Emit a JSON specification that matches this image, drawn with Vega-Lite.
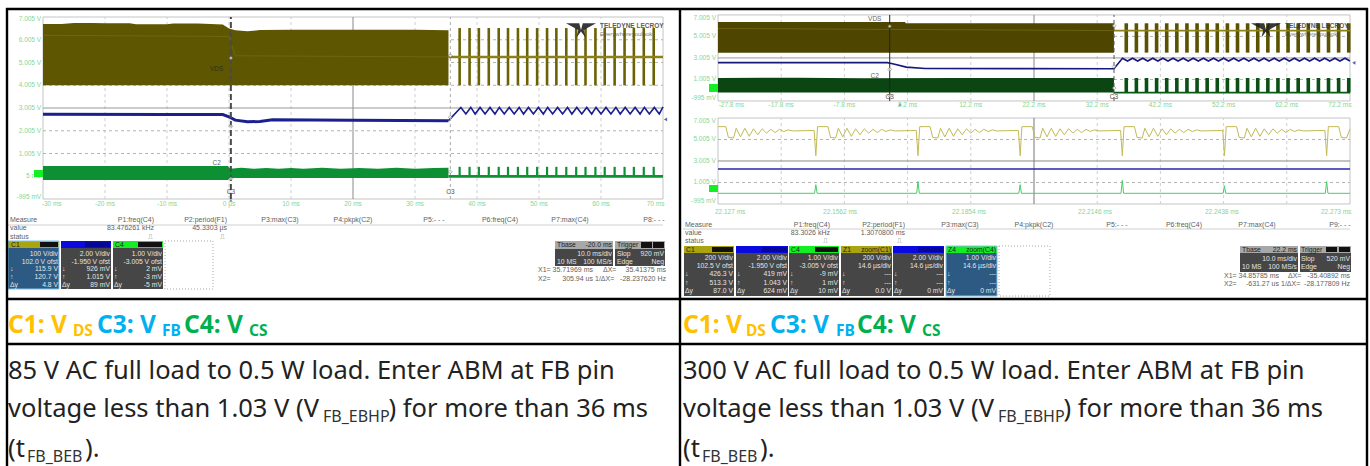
{"$schema":"https://vega.github.io/schema/vega-lite/v6.json","width":1370,"height":466,"padding":0,"autosize":"none","background":"white","config":{"view":{"stroke":null},"text":{"font":"Liberation Sans"}},"resolve":{"scale":{"x":"independent","y":"independent"}},
"layer":[
{"encoding":{"x":{"field":"t","type":"quantitative","scale":{"domain":[-36.9355,184.032]},"axis":null},"y":{"field":"v","type":"quantitative","scale":{"domain":[-12.7313,7.7523]},"axis":null}},
"layer":[
{"data":{"values":[{"t":-30,"t2":70,"v":-0.995,"v2":7.005}]},"mark":{"type":"rect","fill":"white","stroke":"#c4c4c4","strokeWidth":1},"encoding":{"x2":{"field":"t2"},"y2":{"field":"v2"}}},
{"data":{"values":[{"t":-20,"v":-0.995,"v2":7.005},{"t":-10,"v":-0.995,"v2":7.005},{"t":0,"v":-0.995,"v2":7.005},{"t":10,"v":-0.995,"v2":7.005},{"t":30,"v":-0.995,"v2":7.005},{"t":40,"v":-0.995,"v2":7.005},{"t":50,"v":-0.995,"v2":7.005},{"t":60,"v":-0.995,"v2":7.005}]},"mark":{"type":"rule","color":"#cfcfcf","strokeDash":[3,3]},"encoding":{"y2":{"field":"v2"}}},
{"data":{"values":[{"t":-30,"t2":70,"v":6.005},{"t":-30,"t2":70,"v":5.005},{"t":-30,"t2":70,"v":4.005},{"t":-30,"t2":70,"v":2.005},{"t":-30,"t2":70,"v":1.005},{"t":-30,"t2":70,"v":0.005}]},"mark":{"type":"rule","color":"#b4b4b4","strokeDash":[3,3]},"encoding":{"x2":{"field":"t2"}}},
{"data":{"values":[{"t":20,"v":-0.995,"v2":7.005}]},"mark":{"type":"rule","color":"#888"},"encoding":{"y2":{"field":"v2"}}},
{"data":{"values":[{"t":-30,"t2":70,"v":3.005}]},"mark":{"type":"rule","color":"#999"},"encoding":{"x2":{"field":"t2"}}},
{"data":{"values":[{"t":-30,"v":6.7,"lo":4.0},{"t":-27,"v":6.7,"lo":4.0},{"t":-25,"v":6.74,"lo":4.0},{"t":-22,"v":6.74,"lo":4.0},{"t":-20,"v":6.73,"lo":4.0},{"t":-16,"v":6.73,"lo":4.0},{"t":-15,"v":6.69,"lo":4.0},{"t":-10,"v":6.69,"lo":4.0},{"t":-9,"v":6.72,"lo":4.0},{"t":-5,"v":6.72,"lo":4.0},{"t":-4,"v":6.71,"lo":4.0},{"t":-1,"v":6.68,"lo":4.0},{"t":0,"v":6.5,"lo":4.0},{"t":1,"v":6.42,"lo":4.0},{"t":3,"v":6.38,"lo":4.0},{"t":5,"v":6.43,"lo":4.0},{"t":10,"v":6.45,"lo":4.0},{"t":20,"v":6.45,"lo":4.0},{"t":30,"v":6.44,"lo":4.0},{"t":35.4,"v":6.42,"lo":4.0}]},"mark":{"type":"area","color":"#5e5600"},"encoding":{"y2":{"field":"lo"}}},
{"data":{"values":[{"t":-30,"v":6.2},{"t":0,"v":6.15},{"t":1,"v":5.3},{"t":35.4,"v":5.25}]},"mark":{"type":"line","color":"#6f6710","strokeWidth":1}},
{"data":{"values":[{"t":37.2,"v":4,"v2":6.52},{"t":38.8,"v":4,"v2":6.52},{"t":40.3,"v":4,"v2":6.52},{"t":41.9,"v":4,"v2":6.52},{"t":43.5,"v":4,"v2":6.52},{"t":45.0,"v":4,"v2":6.52},{"t":46.6,"v":4,"v2":6.52},{"t":48.1,"v":4,"v2":6.52},{"t":49.7,"v":4,"v2":6.52},{"t":51.3,"v":4,"v2":6.52},{"t":52.8,"v":4,"v2":6.52},{"t":54.4,"v":4,"v2":6.52},{"t":56.0,"v":4,"v2":6.52},{"t":57.5,"v":4,"v2":6.52},{"t":59.1,"v":4,"v2":6.52},{"t":60.6,"v":4,"v2":6.52},{"t":62.2,"v":4,"v2":6.52},{"t":63.8,"v":4,"v2":6.52},{"t":65.3,"v":4,"v2":6.52},{"t":66.9,"v":4,"v2":6.52},{"t":68.5,"v":4,"v2":6.52}]},"mark":{"type":"rule","color":"#6b6206","strokeWidth":2.6},"encoding":{"y2":{"field":"v2"}}},
{"data":{"values":[{"t":37.2,"v":0,"v2":0.42},{"t":38.8,"v":0,"v2":0.42},{"t":40.3,"v":0,"v2":0.42},{"t":41.9,"v":0,"v2":0.42},{"t":43.5,"v":0,"v2":0.42},{"t":45.0,"v":0,"v2":0.42},{"t":46.6,"v":0,"v2":0.42},{"t":48.1,"v":0,"v2":0.42},{"t":49.7,"v":0,"v2":0.42},{"t":51.3,"v":0,"v2":0.42},{"t":52.8,"v":0,"v2":0.42},{"t":54.4,"v":0,"v2":0.42},{"t":56.0,"v":0,"v2":0.42},{"t":57.5,"v":0,"v2":0.42},{"t":59.1,"v":0,"v2":0.42},{"t":60.6,"v":0,"v2":0.42},{"t":62.2,"v":0,"v2":0.42},{"t":63.8,"v":0,"v2":0.42},{"t":65.3,"v":0,"v2":0.42},{"t":66.9,"v":0,"v2":0.42},{"t":68.5,"v":0,"v2":0.42}]},"mark":{"type":"rule","color":"#0d9134","strokeWidth":2.2},"encoding":{"y2":{"field":"v2"}}},
{"data":{"values":[{"t":35.4,"t2":70,"v":5.25}]},"mark":{"type":"rule","color":"#8c8018","strokeWidth":2.4},"encoding":{"x2":{"field":"t2"}}},
{"data":{"values":[{"t":35.4,"t2":70,"v":0.0}]},"mark":{"type":"rule","color":"#0d9134","strokeWidth":2.6},"encoding":{"x2":{"field":"t2"}}},
{"data":{"values":[{"t":35.4,"v":2.45},{"t":37.4,"v":3.03},{"t":38.2,"v":2.74},{"t":39.0,"v":3.03},{"t":39.7,"v":2.74},{"t":40.5,"v":3.03},{"t":41.3,"v":2.74},{"t":42.1,"v":3.03},{"t":42.9,"v":2.74},{"t":43.6,"v":3.03},{"t":44.4,"v":2.74},{"t":45.2,"v":3.03},{"t":46.0,"v":2.74},{"t":46.8,"v":3.03},{"t":47.5,"v":2.74},{"t":48.3,"v":3.03},{"t":49.1,"v":2.74},{"t":49.9,"v":3.03},{"t":50.7,"v":2.74},{"t":51.4,"v":3.03},{"t":52.2,"v":2.74},{"t":53.0,"v":3.03},{"t":53.8,"v":2.74},{"t":54.6,"v":3.03},{"t":55.3,"v":2.74},{"t":56.1,"v":3.03},{"t":56.9,"v":2.74},{"t":57.7,"v":3.03},{"t":58.5,"v":2.74},{"t":59.2,"v":3.03},{"t":60.0,"v":2.74},{"t":60.8,"v":3.03},{"t":61.6,"v":2.74},{"t":62.4,"v":3.03},{"t":63.1,"v":2.74},{"t":63.9,"v":3.03},{"t":64.7,"v":2.74},{"t":65.5,"v":3.03},{"t":66.3,"v":2.74},{"t":67.0,"v":3.03},{"t":67.8,"v":2.74},{"t":68.6,"v":3.03},{"t":69.4,"v":2.74},{"t":70.0,"v":3.05}]},"mark":{"type":"line","color":"#1b2090","strokeWidth":1.6}},
{"data":{"values":[{"t":-30,"v":2.73},{"t":-10,"v":2.72},{"t":-1,"v":2.72},{"t":0,"v":2.62},{"t":1,"v":2.47},{"t":3,"v":2.4},{"t":5,"v":2.41},{"t":7,"v":2.49},{"t":20,"v":2.47},{"t":35.4,"v":2.45}]},"mark":{"type":"line","color":"#1b2090","strokeWidth":3}},
{"data":{"values":[{"t":-30,"v":0.46,"lo":-0.155},{"t":-0.2,"v":0.46,"lo":-0.155},{"t":0.2,"v":0.34,"lo":-0.07},{"t":2,"v":0.38,"lo":-0.07},{"t":4,"v":0.33,"lo":-0.07},{"t":6,"v":0.37,"lo":-0.07},{"t":8,"v":0.33,"lo":-0.07},{"t":10,"v":0.37,"lo":-0.07},{"t":12,"v":0.33,"lo":-0.07},{"t":15,"v":0.38,"lo":-0.07},{"t":18,"v":0.33,"lo":-0.07},{"t":21,"v":0.37,"lo":-0.07},{"t":24,"v":0.33,"lo":-0.07},{"t":27,"v":0.38,"lo":-0.07},{"t":30,"v":0.33,"lo":-0.07},{"t":33,"v":0.37,"lo":-0.07},{"t":35.4,"v":0.38,"lo":-0.07}]},"mark":{"type":"area","color":"#0d8f33"},"encoding":{"y2":{"field":"lo"}}},
{"data":{"values":[{"t":0.3,"v":-0.995,"v2":7.005}]},"mark":{"type":"rule","color":"#4a4a4a","strokeWidth":2,"strokeDash":[6,3]},"encoding":{"y2":{"field":"v2"}}},
{"data":{"values":[{"t":35.7,"v":-0.995,"v2":7.005}]},"mark":{"type":"rule","color":"#aaa","strokeDash":[3,3]},"encoding":{"y2":{"field":"v2"}}},
{"data":{"values":[{"t":0.3,"v":5.2},{"t":0.3,"v":2.2},{"t":0.3,"v":-0.1},{"t":35.7,"v":5.3},{"t":35.7,"v":2.6},{"t":35.7,"v":0.2}]},"mark":{"type":"point","shape":"diamond","size":16,"filled":true,"color":"#eee","stroke":"#555","strokeWidth":0.6}},
{"data":{"values":[{"t":70.4,"v":2.5}]},"mark":{"type":"point","shape":"triangle-left","size":14,"filled":true,"color":"#1b2090"}},
{"data":{"values":[{"t":0.3,"v":-1.05}]},"mark":{"type":"point","shape":"triangle-up","size":12,"filled":true,"color":"#2a62c0"}},
{"data":{"values":[{"t":0.3,"v":-0.7,"s":"C3"},{"t":35.7,"v":-0.7,"s":"C3"}]},"mark":{"type":"text","fontSize":6.5,"color":"#333","opacity":0.85},"encoding":{"text":{"field":"s"}}},
{"data":{"values":[{"t":-2,"v":4.7,"s":"VDS"},{"t":-2,"v":0.6,"s":"C2"}]},"mark":{"type":"text","fontSize":6.5,"color":"#222","opacity":0.7},"encoding":{"text":{"field":"s"}}},
{"data":{"values":[{"t":-30.3,"v":6.93,"s":"7.005 V"},{"t":-30.3,"v":6.005,"s":"6.005 V"},{"t":-30.3,"v":5.005,"s":"5.005 V"},{"t":-30.3,"v":4.005,"s":"4.005 V"},{"t":-30.3,"v":3.005,"s":"3.005 V"},{"t":-30.3,"v":2.005,"s":"2.005 V"},{"t":-30.3,"v":1.005,"s":"1.005 V"},{"t":-30.3,"v":0.005,"s":"5 mV"},{"t":-30.3,"v":-0.9,"s":"-995 mV"}]},"mark":{"type":"text","align":"right","fontSize":6.5,"color":"#6fcf85","opacity":0.85},"encoding":{"text":{"field":"s"}}},
{"data":{"values":[{"t":-28.6,"v":-1.22,"s":"-30 ms"},{"t":-20,"v":-1.22,"s":"-20 ms"},{"t":-10,"v":-1.22,"s":"-10 ms"},{"t":0,"v":-1.22,"s":"0 µs"},{"t":10,"v":-1.22,"s":"10 ms"},{"t":20,"v":-1.22,"s":"20 ms"},{"t":30,"v":-1.22,"s":"30 ms"},{"t":40,"v":-1.22,"s":"40 ms"},{"t":50,"v":-1.22,"s":"50 ms"},{"t":60,"v":-1.22,"s":"60 ms"},{"t":68.8,"v":-1.22,"s":"70 ms"}]},"mark":{"type":"text","fontSize":6.5,"color":"#6fcf85","opacity":0.85},"encoding":{"text":{"field":"s"}}}
]},
{"encoding":{"x":{"field":"t","type":"quantitative","scale":{"domain":[-141.4076,75.3646]},"axis":null},"y":{"field":"v","type":"quantitative","scale":{"domain":[-34.9492,8.3953]},"axis":null}},
"layer":[
{"data":{"values":[{"t":-27.8,"t2":72.2,"v":-0.995,"v2":7.005}]},"mark":{"type":"rect","fill":"white","stroke":"#c4c4c4","strokeWidth":1},"encoding":{"x2":{"field":"t2"},"y2":{"field":"v2"}}},
{"data":{"values":[{"t":-17.8,"v":-0.995,"v2":7.005},{"t":-7.8,"v":-0.995,"v2":7.005},{"t":2.2,"v":-0.995,"v2":7.005},{"t":12.2,"v":-0.995,"v2":7.005},{"t":32.2,"v":-0.995,"v2":7.005},{"t":42.2,"v":-0.995,"v2":7.005},{"t":52.2,"v":-0.995,"v2":7.005},{"t":62.2,"v":-0.995,"v2":7.005}]},"mark":{"type":"rule","color":"#cfcfcf","strokeDash":[3,3]},"encoding":{"y2":{"field":"v2"}}},
{"data":{"values":[{"t":-27.8,"t2":72.2,"v":5.005},{"t":-27.8,"t2":72.2,"v":1.005}]},"mark":{"type":"rule","color":"#b4b4b4","strokeDash":[3,3]},"encoding":{"x2":{"field":"t2"}}},
{"data":{"values":[{"t":22.2,"v":-0.995,"v2":7.005}]},"mark":{"type":"rule","color":"#888"},"encoding":{"y2":{"field":"v2"}}},
{"data":{"values":[{"t":-27.8,"t2":72.2,"v":3.005}]},"mark":{"type":"rule","color":"#999"},"encoding":{"x2":{"field":"t2"}}},
{"data":{"values":[{"t":-27.8,"v":6.35,"lo":3.5},{"t":1.8,"v":6.35,"lo":3.5},{"t":1.9,"v":6.23,"lo":3.5},{"t":34.85,"v":6.23,"lo":3.5}]},"mark":{"type":"area","color":"#4e4600"},"encoding":{"y2":{"field":"lo"}}},
{"data":{"values":[{"t":-27.8,"v":5.75},{"t":34.85,"v":5.55}]},"mark":{"type":"line","color":"#6a6210","strokeWidth":1}},
{"data":{"values":[{"t":36.8,"v":3.5,"v2":6.23},{"t":38.4,"v":3.5,"v2":6.23},{"t":40.0,"v":3.5,"v2":6.23},{"t":41.6,"v":3.5,"v2":6.23},{"t":43.2,"v":3.5,"v2":6.23},{"t":44.8,"v":3.5,"v2":6.23},{"t":46.4,"v":3.5,"v2":6.23},{"t":48.0,"v":3.5,"v2":6.23},{"t":49.6,"v":3.5,"v2":6.23},{"t":51.2,"v":3.5,"v2":6.23},{"t":52.8,"v":3.5,"v2":6.23},{"t":54.4,"v":3.5,"v2":6.23},{"t":56.0,"v":3.5,"v2":6.23},{"t":57.6,"v":3.5,"v2":6.23},{"t":59.2,"v":3.5,"v2":6.23},{"t":60.8,"v":3.5,"v2":6.23},{"t":62.4,"v":3.5,"v2":6.23},{"t":64.0,"v":3.5,"v2":6.23},{"t":65.6,"v":3.5,"v2":6.23},{"t":67.2,"v":3.5,"v2":6.23},{"t":68.8,"v":3.5,"v2":6.23},{"t":70.4,"v":3.5,"v2":6.23},{"t":72.0,"v":3.5,"v2":6.23}]},"mark":{"type":"rule","color":"#5a5200","strokeWidth":3.6},"encoding":{"y2":{"field":"v2"}}},
{"data":{"values":[{"t":36.8,"v":-0.22,"v2":1.14},{"t":38.4,"v":-0.22,"v2":1.14},{"t":40.0,"v":-0.22,"v2":1.14},{"t":41.6,"v":-0.22,"v2":1.14},{"t":43.2,"v":-0.22,"v2":1.14},{"t":44.8,"v":-0.22,"v2":1.14},{"t":46.4,"v":-0.22,"v2":1.14},{"t":48.0,"v":-0.22,"v2":1.14},{"t":49.6,"v":-0.22,"v2":1.14},{"t":51.2,"v":-0.22,"v2":1.14},{"t":52.8,"v":-0.22,"v2":1.14},{"t":54.4,"v":-0.22,"v2":1.14},{"t":56.0,"v":-0.22,"v2":1.14},{"t":57.6,"v":-0.22,"v2":1.14},{"t":59.2,"v":-0.22,"v2":1.14},{"t":60.8,"v":-0.22,"v2":1.14},{"t":62.4,"v":-0.22,"v2":1.14},{"t":64.0,"v":-0.22,"v2":1.14},{"t":65.6,"v":-0.22,"v2":1.14},{"t":67.2,"v":-0.22,"v2":1.14},{"t":68.8,"v":-0.22,"v2":1.14},{"t":70.4,"v":-0.22,"v2":1.14},{"t":72.0,"v":-0.22,"v2":1.14}]},"mark":{"type":"rule","color":"#0b4f15","strokeWidth":3.6},"encoding":{"y2":{"field":"v2"}}},
{"data":{"values":[{"t":34.85,"t2":72.2,"v":5.55}]},"mark":{"type":"rule","color":"#8c8018","strokeWidth":1.6},"encoding":{"x2":{"field":"t2"}}},
{"data":{"values":[{"t":34.85,"t2":72.2,"v":-0.22}]},"mark":{"type":"rule","color":"#0b5a18","strokeWidth":1.6},"encoding":{"x2":{"field":"t2"}}},
{"data":{"values":[{"t":-27.8,"v":2.57},{"t":-1,"v":2.57},{"t":0,"v":2.45},{"t":2,"v":2.15},{"t":5,"v":2.02},{"t":20,"v":2.01},{"t":34.85,"v":2.0},{"t":36.2,"v":2.98},{"t":37.0,"v":2.72},{"t":37.8,"v":2.98},{"t":38.6,"v":2.72},{"t":39.4,"v":2.98},{"t":40.2,"v":2.72},{"t":41.0,"v":2.98},{"t":41.8,"v":2.72},{"t":42.6,"v":2.98},{"t":43.4,"v":2.72},{"t":44.2,"v":2.98},{"t":45.0,"v":2.72},{"t":45.8,"v":2.98},{"t":46.6,"v":2.72},{"t":47.4,"v":2.98},{"t":48.2,"v":2.72},{"t":49.0,"v":2.98},{"t":49.8,"v":2.72},{"t":50.6,"v":2.98},{"t":51.4,"v":2.72},{"t":52.2,"v":2.98},{"t":53.0,"v":2.72},{"t":53.8,"v":2.98},{"t":54.6,"v":2.72},{"t":55.4,"v":2.98},{"t":56.2,"v":2.72},{"t":57.0,"v":2.98},{"t":57.8,"v":2.72},{"t":58.6,"v":2.98},{"t":59.4,"v":2.72},{"t":60.2,"v":2.98},{"t":61.0,"v":2.72},{"t":61.8,"v":2.98},{"t":62.6,"v":2.72},{"t":63.4,"v":2.98},{"t":64.2,"v":2.72},{"t":65.0,"v":2.98},{"t":65.8,"v":2.72},{"t":66.6,"v":2.98},{"t":67.4,"v":2.72},{"t":68.2,"v":2.98},{"t":69.0,"v":2.72},{"t":69.8,"v":2.98},{"t":70.6,"v":2.72},{"t":71.4,"v":2.98},{"t":72.2,"v":2.72}]},"mark":{"type":"line","color":"#16187c","strokeWidth":1.6}},
{"data":{"values":[{"t":-27.8,"v":1.14,"lo":-0.22},{"t":-15,"v":1.17,"lo":-0.22},{"t":-5,"v":1.12,"lo":-0.22},{"t":10,"v":1.15,"lo":-0.22},{"t":34.85,"v":1.14,"lo":-0.22}]},"mark":{"type":"area","color":"#0a4512"},"encoding":{"y2":{"field":"lo"}}},
{"data":{"values":[{"t":-0.63,"v":-0.995,"v2":7.005}]},"mark":{"type":"rule","color":"#222"},"encoding":{"y2":{"field":"v2"}}},
{"data":{"values":[{"t":34.86,"v":-0.995,"v2":7.005}]},"mark":{"type":"rule","color":"#555","strokeDash":[4,3]},"encoding":{"y2":{"field":"v2"}}},
{"data":{"values":[{"t":-0.63,"v":5.95},{"t":-0.63,"v":1.95},{"t":-0.63,"v":-0.5},{"t":34.86,"v":6.0},{"t":34.86,"v":2.2},{"t":34.86,"v":0.2}]},"mark":{"type":"point","shape":"diamond","size":16,"filled":true,"color":"#eee","stroke":"#555","strokeWidth":0.6}},
{"data":{"values":[{"t":72.8,"v":2.55}]},"mark":{"type":"point","shape":"triangle-left","size":14,"filled":true,"color":"#1b2090"}},
{"data":{"values":[{"t":1,"v":-1.3}]},"mark":{"type":"point","shape":"triangle-up","size":12,"filled":true,"color":"#2a62c0"}},
{"data":{"values":[{"t":-0.63,"v":-0.6,"s":"C3"},{"t":34.86,"v":-0.6,"s":"C3"}]},"mark":{"type":"text","fontSize":6.5,"color":"#333","opacity":0.85},"encoding":{"text":{"field":"s"}}},
{"data":{"values":[{"t":-3,"v":6.6,"s":"VDS"},{"t":-3,"v":1.35,"s":"C2"}]},"mark":{"type":"text","fontSize":6.5,"color":"#222","opacity":0.7},"encoding":{"text":{"field":"s"}}},
{"data":{"values":[{"t":-28.12,"v":6.75,"s":"7.005 V"},{"t":-28.12,"v":5.005,"s":"5.005 V"},{"t":-28.12,"v":3.005,"s":"3.005 V"},{"t":-28.12,"v":1.005,"s":"1.005 V"},{"t":-28.12,"v":-0.75,"s":"-995 mV"}]},"mark":{"type":"text","align":"right","fontSize":6.5,"color":"#6fcf85","opacity":0.85},"encoding":{"text":{"field":"s"}}},
{"data":{"values":[{"t":-25.7,"v":-1.4,"s":"-27.8 ms"},{"t":-17.8,"v":-1.4,"s":"-17.8 ms"},{"t":-7.8,"v":-1.4,"s":"-7.8 ms"},{"t":2.2,"v":-1.4,"s":"2.2 ms"},{"t":12.2,"v":-1.4,"s":"12.2 ms"},{"t":22.2,"v":-1.4,"s":"22.2 ms"},{"t":32.2,"v":-1.4,"s":"32.2 ms"},{"t":42.2,"v":-1.4,"s":"42.2 ms"},{"t":52.2,"v":-1.4,"s":"52.2 ms"},{"t":62.2,"v":-1.4,"s":"62.2 ms"},{"t":70.6,"v":-1.4,"s":"72.2 ms"}]},"mark":{"type":"text","fontSize":6.5,"color":"#6fcf85","opacity":0.85},"encoding":{"text":{"field":"s"}}}
]},
{"encoding":{"x":{"field":"t","type":"quantitative","scale":{"domain":[-165.867,150.62]},"axis":null},"y":{"field":"v","type":"quantitative","scale":{"domain":[-25.3678,17.9818]},"axis":null}},
"layer":[
{"data":{"values":[{"t":0,"t2":146,"v":-0.995,"v2":7.005}]},"mark":{"type":"rect","fill":"white","stroke":"#c4c4c4","strokeWidth":1},"encoding":{"x2":{"field":"t2"},"y2":{"field":"v2"}}},
{"data":{"values":[{"t":14.6,"v":-0.995,"v2":7.005},{"t":29.2,"v":-0.995,"v2":7.005},{"t":43.8,"v":-0.995,"v2":7.005},{"t":58.4,"v":-0.995,"v2":7.005},{"t":87.6,"v":-0.995,"v2":7.005},{"t":102.2,"v":-0.995,"v2":7.005},{"t":116.8,"v":-0.995,"v2":7.005},{"t":131.4,"v":-0.995,"v2":7.005}]},"mark":{"type":"rule","color":"#cfcfcf","strokeDash":[3,3]},"encoding":{"y2":{"field":"v2"}}},
{"data":{"values":[{"t":0,"t2":146,"v":5.005},{"t":0,"t2":146,"v":1.005}]},"mark":{"type":"rule","color":"#b4b4b4","strokeDash":[3,3]},"encoding":{"x2":{"field":"t2"}}},
{"data":{"values":[{"t":73,"v":-0.995,"v2":7.005}]},"mark":{"type":"rule","color":"#777"},"encoding":{"y2":{"field":"v2"}}},
{"data":{"values":[{"t":0,"t2":146,"v":3.005}]},"mark":{"type":"rule","color":"#888"},"encoding":{"x2":{"field":"t2"}}},
{"data":{"values":[{"t":0,"v":6.2},{"t":1.8,"v":6.2},{"t":2.4,"v":5.2},{"t":3.6,"v":5.15},{"t":4.2,"v":6.05},{"t":5.2,"v":5.25},{"t":6.2,"v":6.05},{"t":7.2,"v":5.3},{"t":8.2,"v":6.0},{"t":9.2,"v":5.45},{"t":10.2,"v":6.0},{"t":11.2,"v":5.6},{"t":12.2,"v":5.95},{"t":13.2,"v":5.65},{"t":14.2,"v":5.95},{"t":15.2,"v":5.75},{"t":16.2,"v":5.9},{"t":17.2,"v":5.8},{"t":22.2,"v":5.85},
{"t":22.6,"v":3.5},{"t":23.0,"v":6.2},{"t":25.4,"v":6.2},{"t":26.0,"v":5.2},{"t":27.2,"v":5.15},{"t":27.8,"v":6.05},{"t":28.8,"v":5.25},{"t":29.8,"v":6.05},{"t":30.8,"v":5.3},{"t":31.8,"v":6.0},{"t":32.8,"v":5.45},{"t":33.8,"v":6.0},{"t":34.8,"v":5.6},{"t":35.8,"v":5.95},{"t":36.8,"v":5.65},{"t":37.8,"v":5.95},{"t":38.8,"v":5.75},{"t":39.8,"v":5.9},{"t":40.8,"v":5.8},{"t":45.8,"v":5.85},
{"t":46.2,"v":3.5},{"t":46.6,"v":6.2},{"t":49.0,"v":6.2},{"t":49.6,"v":5.2},{"t":50.8,"v":5.15},{"t":51.4,"v":6.05},{"t":52.4,"v":5.25},{"t":53.4,"v":6.05},{"t":54.4,"v":5.3},{"t":55.4,"v":6.0},{"t":56.4,"v":5.45},{"t":57.4,"v":6.0},{"t":58.4,"v":5.6},{"t":59.4,"v":5.95},{"t":60.4,"v":5.65},{"t":61.4,"v":5.95},{"t":62.4,"v":5.75},{"t":63.4,"v":5.9},{"t":64.4,"v":5.8},{"t":69.4,"v":5.85},
{"t":69.8,"v":3.5},{"t":70.2,"v":6.2},{"t":72.6,"v":6.2},{"t":73.2,"v":5.2},{"t":74.4,"v":5.15},{"t":75.0,"v":6.05},{"t":76.0,"v":5.25},{"t":77.0,"v":6.05},{"t":78.0,"v":5.3},{"t":79.0,"v":6.0},{"t":80.0,"v":5.45},{"t":81.0,"v":6.0},{"t":82.0,"v":5.6},{"t":83.0,"v":5.95},{"t":84.0,"v":5.65},{"t":85.0,"v":5.95},{"t":86.0,"v":5.75},{"t":87.0,"v":5.9},{"t":88.0,"v":5.8},{"t":93.0,"v":5.85},
{"t":93.4,"v":3.5},{"t":93.8,"v":6.2},{"t":96.2,"v":6.2},{"t":96.8,"v":5.2},{"t":98.0,"v":5.15},{"t":98.6,"v":6.05},{"t":99.6,"v":5.25},{"t":100.6,"v":6.05},{"t":101.6,"v":5.3},{"t":102.6,"v":6.0},{"t":103.6,"v":5.45},{"t":104.6,"v":6.0},{"t":105.6,"v":5.6},{"t":106.6,"v":5.95},{"t":107.6,"v":5.65},{"t":108.6,"v":5.95},{"t":109.6,"v":5.75},{"t":110.6,"v":5.9},{"t":111.6,"v":5.8},{"t":116.6,"v":5.85},
{"t":117.0,"v":3.5},{"t":117.4,"v":6.2},{"t":119.8,"v":6.2},{"t":120.4,"v":5.2},{"t":121.6,"v":5.15},{"t":122.2,"v":6.05},{"t":123.2,"v":5.25},{"t":124.2,"v":6.05},{"t":125.2,"v":5.3},{"t":126.2,"v":6.0},{"t":127.2,"v":5.45},{"t":128.2,"v":6.0},{"t":129.2,"v":5.6},{"t":130.2,"v":5.95},{"t":131.2,"v":5.65},{"t":132.2,"v":5.95},{"t":133.2,"v":5.75},{"t":134.2,"v":5.9},{"t":135.2,"v":5.8},{"t":140.2,"v":5.85},
{"t":140.6,"v":3.5},{"t":141.0,"v":6.2},{"t":143.4,"v":6.2},{"t":144.0,"v":5.2},{"t":145.2,"v":5.15},{"t":146.0,"v":6.0}]},"mark":{"type":"line","color":"#c4ba55","strokeWidth":1}},
{"data":{"values":[{"t":0,"v":2.26},{"t":146,"v":2.26}]},"mark":{"type":"line","color":"#2428a8","strokeWidth":1.6}},
{"data":{"values":[{"t":0,"v":0},{"t":22.3,"v":0},{"t":22.6,"v":0.8},{"t":22.9,"v":0},{"t":45.9,"v":0},{"t":46.2,"v":1.1},{"t":46.5,"v":0},{"t":69.5,"v":0},{"t":69.8,"v":0.8},{"t":70.1,"v":0},{"t":93.1,"v":0},{"t":93.4,"v":1.2},{"t":93.7,"v":0},{"t":116.7,"v":0},{"t":117.0,"v":0.7},{"t":117.3,"v":0},{"t":140.3,"v":0},{"t":140.6,"v":1.1},{"t":140.9,"v":0},{"t":146,"v":0}]},"mark":{"type":"line","color":"#45cf66","strokeWidth":1}},
{"data":{"values":[{"t":-0.5,"v":6.75,"s":"7.005 V"},{"t":-0.5,"v":5.005,"s":"5.005 V"},{"t":-0.5,"v":3.005,"s":"3.005 V"},{"t":-0.5,"v":1.005,"s":"1.005 V"},{"t":-0.5,"v":-0.75,"s":"-995 mV"}]},"mark":{"type":"text","align":"right","fontSize":6.5,"color":"#6fcf85","opacity":0.85},"encoding":{"text":{"field":"s"}}},
{"data":{"values":[{"t":2.8,"v":-1.7,"s":"22.127 ms"},{"t":28.2,"v":-1.7,"s":"22.1562 ms"},{"t":58,"v":-1.7,"s":"22.1854 ms"},{"t":87.1,"v":-1.7,"s":"22.2146 ms"},{"t":116.4,"v":-1.7,"s":"22.2438 ms"},{"t":142.8,"v":-1.7,"s":"22.273 ms"}]},"mark":{"type":"text","fontSize":6.5,"color":"#6fcf85","opacity":0.85},"encoding":{"text":{"field":"s"}}}
]},
{"encoding":{"x":{"field":"x","type":"quantitative","scale":{"domain":[0,1370]},"axis":null},"y":{"field":"y","type":"quantitative","scale":{"domain":[466,0]},"axis":null}},
"layer":[
{"data":{"values":[{"x":8,"x2":663,"y":225},{"x":683,"x2":1350,"y":229}]},"mark":{"type":"rule","color":"#d0d0d0"},"encoding":{"x2":{"field":"x2"}}},
{"data":{"values":[
{"x":8,"x2":59,"y":248,"y2":289,"part":"active"},{"x":61,"x2":111,"y":248,"y2":289,"part":"body"},{"x":113,"x2":163,"y":248,"y2":289,"part":"body"},
{"x":8,"x2":59,"y":241,"y2":248,"part":"olive"},{"x":61,"x2":111,"y":241,"y2":248,"part":"blue"},{"x":113,"x2":163,"y":241,"y2":248,"part":"green"},
{"x":40,"x2":58,"y":242,"y2":247,"part":"black"},{"x":85,"x2":110,"y":242,"y2":247,"part":"navy"},{"x":138,"x2":162,"y":242,"y2":247,"part":"black"},
{"x":684,"x2":734,"y":253,"y2":296,"part":"body"},{"x":736,"x2":788,"y":253,"y2":296,"part":"body"},{"x":789,"x2":839,"y":253,"y2":296,"part":"body"},{"x":841,"x2":892,"y":253,"y2":296,"part":"body"},{"x":893,"x2":944,"y":253,"y2":296,"part":"body"},{"x":946,"x2":997,"y":253,"y2":296,"part":"active"},
{"x":684,"x2":734,"y":246,"y2":253,"part":"olive"},{"x":736,"x2":788,"y":246,"y2":253,"part":"blue"},{"x":789,"x2":839,"y":246,"y2":253,"part":"green"},{"x":841,"x2":892,"y":246,"y2":253,"part":"olive"},{"x":893,"x2":944,"y":246,"y2":253,"part":"blue"},{"x":946,"x2":997,"y":246,"y2":253,"part":"green"},
{"x":712,"x2":733,"y":247,"y2":252,"part":"black"},{"x":762,"x2":787,"y":247,"y2":252,"part":"navy"},{"x":815,"x2":838,"y":247,"y2":252,"part":"black"},{"x":918,"x2":943,"y":247,"y2":252,"part":"navy"},
{"x":555,"x2":613,"y":241,"y2":249,"part":"tbh"},{"x":555,"x2":613,"y":249,"y2":266,"part":"body"},{"x":615,"x2":665,"y":241,"y2":249,"part":"tbh"},{"x":615,"x2":665,"y":249,"y2":266,"part":"body"},{"x":641,"x2":652,"y":242,"y2":248,"part":"black"},{"x":653,"x2":664,"y":242,"y2":248,"part":"black"},
{"x":1240,"x2":1298,"y":246,"y2":253,"part":"tbh"},{"x":1240,"x2":1298,"y":253,"y2":272,"part":"body"},{"x":1300,"x2":1351,"y":246,"y2":253,"part":"tbh"},{"x":1300,"x2":1351,"y":253,"y2":272,"part":"body"},{"x":1326,"x2":1337,"y":247,"y2":252,"part":"black"},{"x":1339,"x2":1350,"y":247,"y2":252,"part":"black"},
{"x":34,"x2":43,"y":170,"y2":177,"part":"green"},{"x":709,"x2":718,"y":84,"y2":92,"part":"green"},{"x":709,"x2":718,"y":185,"y2":192,"part":"green"}
]},"mark":{"type":"rect"},"encoding":{"x2":{"field":"x2"},"y2":{"field":"y2"},"color":{"field":"part","type":"nominal","legend":null,"scale":{"domain":["active","body","olive","blue","green","black","navy","tbh"],"range":["#2c5a82","#464646","#aaa410","#0a0ae0","#14ee24","#111111","#06069a","#a8a8a8"]}}}},
{"data":{"values":[{"x":8,"x2":59,"y":241,"y2":289},{"x":946,"x2":997,"y":246,"y2":296}]},"mark":{"type":"rect","fill":null,"stroke":"#7fc4ea","strokeWidth":1},"encoding":{"x2":{"field":"x2"},"y2":{"field":"y2"}}},
{"data":{"values":[{"x":165,"x2":213,"y":241,"y2":289},{"x":999,"x2":1050,"y":246,"y2":296}]},"mark":{"type":"rect","fill":null,"stroke":"#aaa","strokeWidth":1,"strokeDash":[1,2]},"encoding":{"x2":{"field":"x2"},"y2":{"field":"y2"}}},
{"data":{"values":[{"x":581,"y":30},{"x":1266,"y":30}]},"mark":{"type":"point","shape":"M-1,-0.45 L-0.12,-0.45 L0,0 L0.12,-0.45 L1,-0.45 L0.18,0 L0.3,0.5 L0,0.1 L-0.3,0.5 L-0.18,0 Z","size":900,"filled":true,"color":"#222","opacity":0.9}},
{"data":{"values":[{"x":600,"y":26,"s":"TELEDYNE LECROY"},{"x":1285,"y":26,"s":"TELEDYNE LECROY"}]},"mark":{"type":"text","align":"left","fontSize":6.5,"fontWeight":"bold","color":"#333","opacity":0.8},"encoding":{"text":{"field":"s"}}},
{"data":{"values":[{"x":600,"y":34,"s":"Everywhereyoulook"},{"x":1285,"y":34,"s":"Everywhereyoulook"}]},"mark":{"type":"text","align":"left","fontSize":6,"color":"#444","opacity":0.7},"encoding":{"text":{"field":"s"}}},
{"data":{"values":[{"x":10,"y":220,"s":"Measure"},{"x":10,"y":228,"s":"value"},{"x":10,"y":237,"s":"status"},{"x":685,"y":225,"s":"Measure"},{"x":685,"y":233,"s":"value"},{"x":685,"y":241,"s":"status"},{"x":538,"y":270,"s":"X1="},{"x":603,"y":270,"s":"ΔX="},{"x":538,"y":279,"s":"X2="},{"x":595,"y":279,"s":"1/ΔX="},{"x":1224,"y":276,"s":"X1="},{"x":1288,"y":276,"s":"ΔX="},{"x":1224,"y":284,"s":"X2="},{"x":1281,"y":284,"s":"1/ΔX="}]},"mark":{"type":"text","align":"left","fontSize":7,"color":"#444","opacity":0.85},"encoding":{"text":{"field":"s"}}},
{"data":{"values":[{"x":154,"y":220,"s":"P1:freq(C4)"},{"x":154,"y":228,"s":"83.476261 kHz"},{"x":153,"y":237,"s":"⎍"},{"x":227,"y":220,"s":"P2:period(F1)"},{"x":227,"y":228,"s":"45.3303 µs"},{"x":225,"y":237,"s":"⎍"},{"x":830,"y":225,"s":"P1:freq(C4)"},{"x":830,"y":233,"s":"83.3026 kHz"},{"x":828,"y":241,"s":"⎍"},{"x":905,"y":225,"s":"P2:period(F1)"},{"x":905,"y":233,"s":"1.3070800 ms"},{"x":902,"y":241,"s":"⎍"},{"x":593,"y":270,"s":"35.71969 ms"},{"x":666,"y":270,"s":"35.41375 ms"},{"x":593,"y":279,"s":"305.94 us"},{"x":666,"y":279,"s":"-28.237620 Hz"},{"x":1279,"y":276,"s":"34.85785 ms"},{"x":1350,"y":276,"s":"-35.40892 ms"},{"x":1279,"y":284,"s":"-631.27 us"},{"x":1350,"y":284,"s":"-28.177809 Hz"}]},"mark":{"type":"text","align":"right","fontSize":7,"color":"#444","opacity":0.85},"encoding":{"text":{"field":"s"}}},
{"data":{"values":[{"x":280,"y":220,"s":"P3:max(C3)"},{"x":353,"y":220,"s":"P4:pkpk(C2)"},{"x":434,"y":220,"s":"P5:- - -"},{"x":500,"y":220,"s":"P6:freq(C4)"},{"x":570,"y":220,"s":"P7:max(C4)"},{"x":654,"y":220,"s":"P8:- - -"},{"x":960,"y":225,"s":"P3:max(C3)"},{"x":1034,"y":225,"s":"P4:pkpk(C2)"},{"x":1117,"y":225,"s":"P5:- - -"},{"x":1184,"y":225,"s":"P6:freq(C4)"},{"x":1257,"y":225,"s":"P7:max(C4)"},{"x":1340,"y":225,"s":"P9:- - -"}]},"mark":{"type":"text","align":"center","fontSize":7,"color":"#444","opacity":0.85},"encoding":{"text":{"field":"s"}}},
{"data":{"values":[{"x":58,"y":254,"s":"100 V/div"},{"x":58,"y":262,"s":"102.0 V ofst"},{"x":58,"y":269,"s":"115.9 V"},{"x":58,"y":277,"s":"120.7 V"},{"x":58,"y":285,"s":"4.8 V"},{"x":110,"y":254,"s":"2.00 V/div"},{"x":110,"y":262,"s":"-1.950 V ofst"},{"x":110,"y":269,"s":"926 mV"},{"x":110,"y":277,"s":"1.015 V"},{"x":110,"y":285,"s":"89 mV"},{"x":162,"y":254,"s":"1.00 V/div"},{"x":162,"y":262,"s":"-3.005 V ofst"},{"x":162,"y":269,"s":"2 mV"},{"x":162,"y":277,"s":"-3 mV"},{"x":162,"y":285,"s":"-5 mV"},
{"x":733,"y":258,"s":"200 V/div"},{"x":733,"y":266,"s":"102.5 V ofst"},{"x":733,"y":274,"s":"426.3 V"},{"x":733,"y":283,"s":"513.3 V"},{"x":733,"y":291,"s":"87.0 V"},{"x":787,"y":258,"s":"2.00 V/div"},{"x":787,"y":266,"s":"-1.950 V ofst"},{"x":787,"y":274,"s":"419 mV"},{"x":787,"y":283,"s":"1.043 V"},{"x":787,"y":291,"s":"624 mV"},{"x":838,"y":258,"s":"1.00 V/div"},{"x":838,"y":266,"s":"-3.005 V ofst"},{"x":838,"y":274,"s":"-9 mV"},{"x":838,"y":283,"s":"1 mV"},{"x":838,"y":291,"s":"10 mV"},{"x":891,"y":258,"s":"200 V/div"},{"x":891,"y":266,"s":"14.6 µs/div"},{"x":891,"y":274,"s":"---"},{"x":891,"y":283,"s":"---"},{"x":891,"y":291,"s":"0.0 V"},{"x":943,"y":258,"s":"2.00 V/div"},{"x":943,"y":266,"s":"14.6 µs/div"},{"x":943,"y":274,"s":"---"},{"x":943,"y":283,"s":"---"},{"x":943,"y":291,"s":"0 mV"},{"x":996,"y":258,"s":"1.00 V/div"},{"x":996,"y":266,"s":"14.6 µs/div"},{"x":996,"y":274,"s":"---"},{"x":996,"y":283,"s":"---"},{"x":996,"y":291,"s":"0 mV"},
{"x":612,"y":254,"s":"10.0 ms/div"},{"x":612,"y":262,"s":"100 MS/s"},{"x":664,"y":254,"s":"920 mV"},{"x":664,"y":262,"s":"Neg"},{"x":1297,"y":259,"s":"10.0 ms/div"},{"x":1297,"y":267,"s":"100 MS/s"},{"x":1350,"y":259,"s":"520 mV"},{"x":1350,"y":267,"s":"Neg"}]},"mark":{"type":"text","align":"right","fontSize":6.8,"color":"#e4e4e4"},"encoding":{"text":{"field":"s"}}},
{"data":{"values":[{"x":10,"y":269,"s":"↓"},{"x":10,"y":277,"s":"↑"},{"x":10,"y":285,"s":"Δy"},{"x":62,"y":269,"s":"↓"},{"x":62,"y":277,"s":"↑"},{"x":62,"y":285,"s":"Δy"},{"x":114,"y":269,"s":"↓"},{"x":114,"y":277,"s":"↑"},{"x":114,"y":285,"s":"Δy"},{"x":685,"y":274,"s":"↓"},{"x":685,"y":283,"s":"↑"},{"x":685,"y":291,"s":"Δy"},{"x":737,"y":274,"s":"↓"},{"x":737,"y":283,"s":"↑"},{"x":737,"y":291,"s":"Δy"},{"x":790,"y":274,"s":"↓"},{"x":790,"y":283,"s":"↑"},{"x":790,"y":291,"s":"Δy"},{"x":842,"y":274,"s":"↓"},{"x":842,"y":283,"s":"↑"},{"x":842,"y":291,"s":"Δy"},{"x":894,"y":274,"s":"↓"},{"x":894,"y":283,"s":"↑"},{"x":894,"y":291,"s":"Δy"},{"x":947,"y":274,"s":"↓"},{"x":947,"y":283,"s":"↑"},{"x":947,"y":291,"s":"Δy"},{"x":557,"y":262,"s":"10 MS"},{"x":617,"y":254,"s":"Slop"},{"x":617,"y":262,"s":"Edge"},{"x":1242,"y":267,"s":"10 MS"},{"x":1301,"y":259,"s":"Slop"},{"x":1301,"y":267,"s":"Edge"}]},"mark":{"type":"text","align":"left","fontSize":6.8,"color":"#e4e4e4"},"encoding":{"text":{"field":"s"}}},
{"data":{"values":[{"x":11,"y":245,"s":"C1"},{"x":686,"y":250,"s":"C1"},{"x":791,"y":250,"s":"C4"},{"x":843,"y":250,"s":"Z1"},{"x":948,"y":250,"s":"Z4"},{"x":115,"y":245,"s":"C4"},{"x":557,"y":245,"s":"Tbase"},{"x":617,"y":245,"s":"Trigger"},{"x":1242,"y":250,"s":"Tbase"},{"x":1301,"y":250,"s":"Trigger"}]},"mark":{"type":"text","align":"left","fontSize":6.8,"color":"#222"},"encoding":{"text":{"field":"s"}}},
{"data":{"values":[{"x":612,"y":245,"s":"-20.0 ms"},{"x":1297,"y":250,"s":"22.2 ms"},{"x":891,"y":250,"s":"zoom(C1)"},{"x":996,"y":250,"s":"zoom(C4)"}]},"mark":{"type":"text","align":"right","fontSize":6.8,"color":"#222"},"encoding":{"text":{"field":"s"}}},
{"data":{"values":[{"x":8,"y":333,"s":"C1: V"},{"x":683,"y":333,"s":"C1: V"}]},"mark":{"type":"text","align":"left","baseline":"alphabetic","font":"Noto Sans","fontSize":24.5,"fontWeight":"bold","color":"#FFC000"},"encoding":{"text":{"field":"s"}}},
{"data":{"values":[{"x":73,"y":336,"s":"DS"},{"x":746,"y":336,"s":"DS"}]},"mark":{"type":"text","align":"left","baseline":"alphabetic","font":"Noto Sans","fontSize":15.5,"fontWeight":"bold","color":"#FFC000"},"encoding":{"text":{"field":"s"}}},
{"data":{"values":[{"x":97,"y":333,"s":"C3: V"},{"x":770,"y":333,"s":"C3: V"}]},"mark":{"type":"text","align":"left","baseline":"alphabetic","font":"Noto Sans","fontSize":24.5,"fontWeight":"bold","color":"#00B0F0"},"encoding":{"text":{"field":"s"}}},
{"data":{"values":[{"x":162,"y":336,"s":"FB"},{"x":836,"y":336,"s":"FB"}]},"mark":{"type":"text","align":"left","baseline":"alphabetic","font":"Noto Sans","fontSize":15.5,"fontWeight":"bold","color":"#00B0F0"},"encoding":{"text":{"field":"s"}}},
{"data":{"values":[{"x":184,"y":333,"s":"C4: V"},{"x":857,"y":333,"s":"C4: V"}]},"mark":{"type":"text","align":"left","baseline":"alphabetic","font":"Noto Sans","fontSize":24.5,"fontWeight":"bold","color":"#00B050"},"encoding":{"text":{"field":"s"}}},
{"data":{"values":[{"x":249,"y":336,"s":"CS"},{"x":922,"y":336,"s":"CS"}]},"mark":{"type":"text","align":"left","baseline":"alphabetic","font":"Noto Sans","fontSize":15.5,"fontWeight":"bold","color":"#00B050"},"encoding":{"text":{"field":"s"}}},
{"data":{"values":[{"x":8,"y":379,"s":"85 V AC full load to 0.5 W load. Enter ABM at FB pin"},{"x":683,"y":379,"s":"300 V AC full load to 0.5 W load. Enter ABM at FB pin"},{"x":8,"y":417,"s":"voltage less than 1.03 V (V"},{"x":683,"y":417,"s":"voltage less than 1.03 V (V"},{"x":8,"y":457,"s":"(t"},{"x":683,"y":457,"s":"(t"},{"x":85,"y":457,"s":")."},{"x":760,"y":457,"s":")."}]},"mark":{"type":"text","align":"left","baseline":"alphabetic","font":"Noto Sans","fontSize":25.5,"color":"#222"},"encoding":{"text":{"field":"s"}}},
{"data":{"values":[{"x":648,"y":417,"s":") for more than 36 ms"},{"x":1323,"y":417,"s":") for more than 36 ms"}]},"mark":{"type":"text","align":"right","baseline":"alphabetic","font":"Noto Sans","fontSize":25.5,"color":"#222"},"encoding":{"text":{"field":"s"}}},
{"data":{"values":[{"x":323,"y":422,"s":"FB_EBHP"},{"x":998,"y":422,"s":"FB_EBHP"},{"x":27,"y":462,"s":"FB_BEB"},{"x":702,"y":462,"s":"FB_BEB"}]},"mark":{"type":"text","align":"left","baseline":"alphabetic","font":"Noto Sans","fontSize":16,"color":"#333"},"encoding":{"text":{"field":"s"}}},
{"data":{"values":[{"x":6,"x2":1368,"y":9},{"x":6,"x2":1368,"y":299},{"x":6,"x2":1368,"y":344}]},"mark":{"type":"rule","color":"#000","strokeWidth":2.4},"encoding":{"x2":{"field":"x2"}}},
{"data":{"values":[{"x":7,"y":8,"y2":466},{"x":680,"y":8,"y2":466},{"x":1367,"y":8,"y2":466}]},"mark":{"type":"rule","color":"#000","strokeWidth":2.4},"encoding":{"y2":{"field":"y2"}}}
]}
]}
